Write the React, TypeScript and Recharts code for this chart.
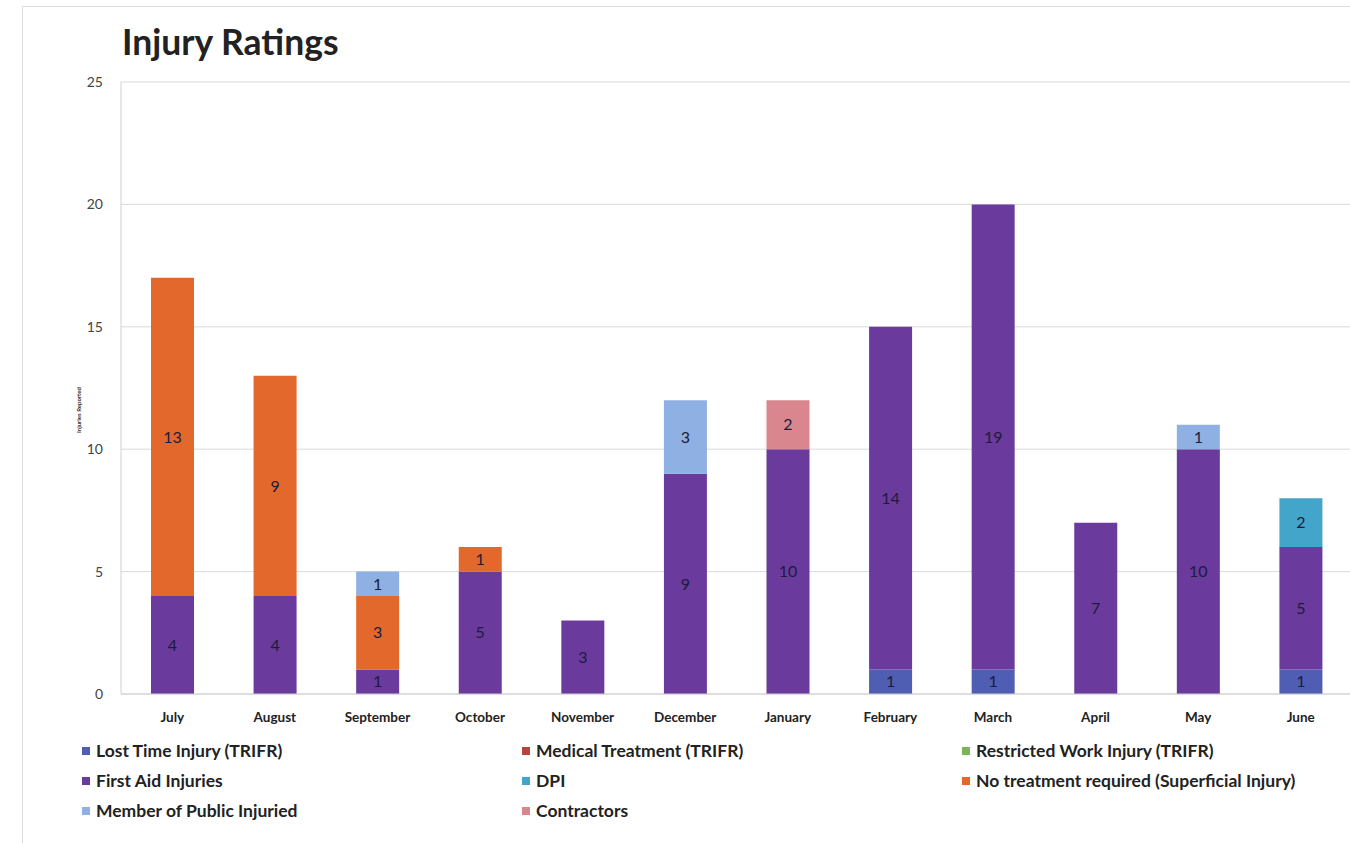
import { BarChart, Bar, XAxis, YAxis, CartesianGrid, LabelList } from "recharts";

const months = ["July", "August", "September", "October", "November", "December", "January", "February", "March", "April", "May", "June"];

const lostTime = [null, null, null, null, null, null, null, 1, 1, null, null, 1];
const medical = [null, null, null, null, null, null, null, null, null, null, null, null];
const restricted = [null, null, null, null, null, null, null, null, null, null, null, null];
const firstAid = [4, 4, 1, 5, 3, 9, 10, 14, 19, 7, 10, 5];
const dpi = [null, null, null, null, null, null, null, null, null, null, null, 2];
const noTreatment = [13, 9, 3, 1, null, null, null, null, null, null, null, null];
const publicInjured = [null, null, 1, null, null, 3, null, null, null, null, 1, null];
const contractors = [null, null, null, null, null, null, 2, null, null, null, null, null];

const yTicks = [0, 5, 10, 15, 20, 25];

const series = [
  { key: "lostTime", name: "Lost Time Injury (TRIFR)", color: "#4f5db3" },
  { key: "medical", name: "Medical Treatment (TRIFR)", color: "#b5443f" },
  { key: "restricted", name: "Restricted Work Injury (TRIFR)", color: "#7fb35a" },
  { key: "firstAid", name: "First Aid Injuries", color: "#6a3a9c" },
  { key: "dpi", name: "DPI", color: "#42a5c9" },
  { key: "noTreatment", name: "No treatment required (Superficial Injury)", color: "#e2682c" },
  { key: "publicInjured", name: "Member of Public Injuried", color: "#8fb0e3" },
  { key: "contractors", name: "Contractors", color: "#d9868f" },
];

const data = months.map((m, i) => ({
  month: m,
  lostTime: lostTime[i],
  medical: medical[i],
  restricted: restricted[i],
  firstAid: firstAid[i],
  dpi: dpi[i],
  noTreatment: noTreatment[i],
  publicInjured: publicInjured[i],
  contractors: contractors[i],
}));

const font = "Lato, 'Open Sans', sans-serif";

export default function App() {
  return (
    <div style={{ position: "absolute", left: 0, top: 0, width: 1350, height: 843, background: "#fff", overflow: "hidden", fontFamily: font }}>
      <div style={{ position: "absolute", left: 22, top: 6, width: 1340, height: 850, border: "1px solid #dcdcdc" }} />
      <div style={{ position: "absolute", left: 122, top: 20, fontSize: 35.5, fontWeight: 700, color: "#222" }}>Injury Ratings</div>
      <div
        style={{
          position: "absolute",
          left: 78,
          top: 410,
          transform: "translate(-50%, -50%) rotate(-90deg)",
          fontSize: 6,
          fontWeight: 700,
          color: "#333",
          whiteSpace: "nowrap",
        }}
      >
        Injuries Reported
      </div>
      <div style={{ position: "absolute", left: 0, top: 0 }}>
        <BarChart width={1352} height={843} data={data} margin={{ top: 82, right: 0, left: 0, bottom: 119 }} barSize={43}>
          <CartesianGrid vertical={false} stroke="#dadada" />
          <XAxis
            dataKey="month"
            height={30}
            axisLine={{ stroke: "#cfcfcf" }}
            tickLine={false}
            interval={0}
            tickMargin={12}
            tick={{ fontSize: 13.5, fontWeight: 700, fill: "#222", fontFamily: font }}
          />
          <YAxis
            width={121}
            domain={[0, 25]}
            ticks={yTicks}
            axisLine={{ stroke: "#cfcfcf" }}
            tickLine={false}
            tickMargin={12}
            tick={{ fontSize: 14, fill: "#444", fontFamily: font }}
          />
          {series.map((s) => (
            <Bar key={s.key} dataKey={s.key} name={s.name} stackId="a" fill={s.color} isAnimationActive={false}>
              <LabelList
                dataKey={s.key}
                position="center"
                formatter={(v: any) => (v ? v : "")}
                style={{ fontSize: 16, fill: "#1c1c3a", fontFamily: font }}
              />
            </Bar>
          ))}
        </BarChart>
      </div>
      {series.map((s, i) => {
        const col = i % 3;
        const row = Math.floor(i / 3);
        return (
          <div
            key={s.key}
            style={{
              position: "absolute",
              left: 82 + col * 440,
              top: 740 + row * 30,
              display: "flex",
              alignItems: "center",
              fontSize: 17.5,
              fontWeight: 700,
              color: "#222",
              whiteSpace: "nowrap",
            }}
          >
            <span style={{ display: "inline-block", width: 8, height: 8, background: s.color, marginRight: 6 }} />
            {s.name}
          </div>
        );
      })}
    </div>
  );
}
